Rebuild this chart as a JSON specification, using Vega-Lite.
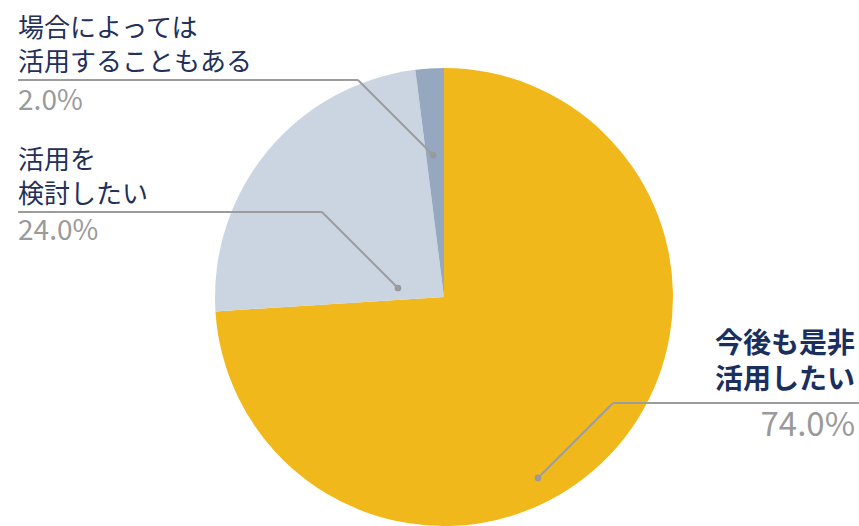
{
  "$schema": "https://vega.github.io/schema/vega-lite/v6.json",
  "width": 458,
  "height": 458,
  "autosize": "none",
  "padding": {"left": 215, "top": 68, "right": 186, "bottom": 0},
  "background": "white",
  "config": {"view": {"stroke": null}},
  "datasets": {
    "slices": [
      {"category": "今後も是非活用したい", "value": 74, "order": 1},
      {"category": "活用を検討したい", "value": 24, "order": 2},
      {"category": "場合によっては活用することもある", "value": 2, "order": 3}
    ],
    "segments": [
      {"x": -1.86, "y": 0.9476, "x2": -0.3755, "y2": 0.9476},
      {"x": -0.3755, "y": 0.9476, "x2": -0.048, "y2": 0.62},
      {"x": -1.86, "y": 0.371, "x2": -0.533, "y2": 0.371},
      {"x": -0.533, "y": 0.371, "x2": -0.201, "y2": 0.0393},
      {"x": 1.812, "y": -0.463, "x2": 0.738, "y2": -0.463},
      {"x": 0.738, "y": -0.463, "x2": 0.4105, "y2": -0.79}
    ],
    "dots": [
      {"x": -0.048, "y": 0.62},
      {"x": -0.201, "y": 0.0393},
      {"x": 0.4105, "y": -0.79}
    ],
    "leftLabels": [
      {"text": "場合によっては\n活用することもある", "x": -1.86, "y": 1.1336},
      {"text": "活用を\n検討したい", "x": -1.86, "y": 0.5594}
    ],
    "leftPct": [
      {"text": "2.0%", "x": -1.86, "y": 0.8537},
      {"text": "24.0%", "x": -1.86, "y": 0.2838}
    ],
    "rightLabels": [
      {"text": "今後も是非\n活用したい", "x": 1.795, "y": -0.2463}
    ],
    "rightPct": [
      {"text": "74.0%", "x": 1.795, "y": -0.5633}
    ]
  },
  "layer": [
    {
      "data": {"name": "slices"},
      "mark": {"type": "arc"},
      "encoding": {
        "theta": {"field": "value", "type": "quantitative", "stack": true},
        "order": {"field": "order", "type": "quantitative"},
        "color": {
          "field": "category",
          "type": "nominal",
          "scale": {
            "domain": ["今後も是非活用したい", "活用を検討したい", "場合によっては活用することもある"],
            "range": ["#F1B81C", "#CBD5E2", "#96A8BF"]
          },
          "legend": null
        }
      }
    },
    {
      "data": {"name": "segments"},
      "mark": {"type": "rule", "color": "#9C9C9C", "strokeWidth": 2},
      "encoding": {
        "x": {"field": "x", "type": "quantitative", "scale": {"domain": [-1, 1], "nice": false, "zero": false}, "axis": null},
        "y": {"field": "y", "type": "quantitative", "scale": {"domain": [-1, 1], "nice": false, "zero": false}, "axis": null},
        "x2": {"field": "x2"},
        "y2": {"field": "y2"}
      }
    },
    {
      "data": {"name": "dots"},
      "mark": {"type": "point", "filled": true, "color": "#9A9A9A", "opacity": 1, "size": 45},
      "encoding": {
        "x": {"field": "x", "type": "quantitative"},
        "y": {"field": "y", "type": "quantitative"}
      }
    },
    {
      "data": {"name": "leftLabels"},
      "mark": {"type": "text", "align": "left", "baseline": "alphabetic", "lineBreak": "\n", "lineHeight": 34, "font": "Noto Sans CJK JP", "fontSize": 26, "color": "#22305A"},
      "encoding": {
        "x": {"field": "x", "type": "quantitative"},
        "y": {"field": "y", "type": "quantitative"},
        "text": {"field": "text"}
      }
    },
    {
      "data": {"name": "leftPct"},
      "mark": {"type": "text", "align": "left", "baseline": "middle", "font": "Noto Sans CJK JP", "fontSize": 28, "color": "#9A9A9A"},
      "encoding": {
        "x": {"field": "x", "type": "quantitative"},
        "y": {"field": "y", "type": "quantitative"},
        "text": {"field": "text"}
      }
    },
    {
      "data": {"name": "rightLabels"},
      "mark": {"type": "text", "align": "right", "baseline": "alphabetic", "lineBreak": "\n", "lineHeight": 36, "font": "Noto Sans CJK JP", "fontSize": 28, "fontWeight": "bold", "color": "#1B2F5E"},
      "encoding": {
        "x": {"field": "x", "type": "quantitative"},
        "y": {"field": "y", "type": "quantitative"},
        "text": {"field": "text"}
      }
    },
    {
      "data": {"name": "rightPct"},
      "mark": {"type": "text", "align": "right", "baseline": "middle", "font": "Noto Sans CJK JP", "fontSize": 33, "color": "#9A9A9A"},
      "encoding": {
        "x": {"field": "x", "type": "quantitative"},
        "y": {"field": "y", "type": "quantitative"},
        "text": {"field": "text"}
      }
    }
  ]
}
